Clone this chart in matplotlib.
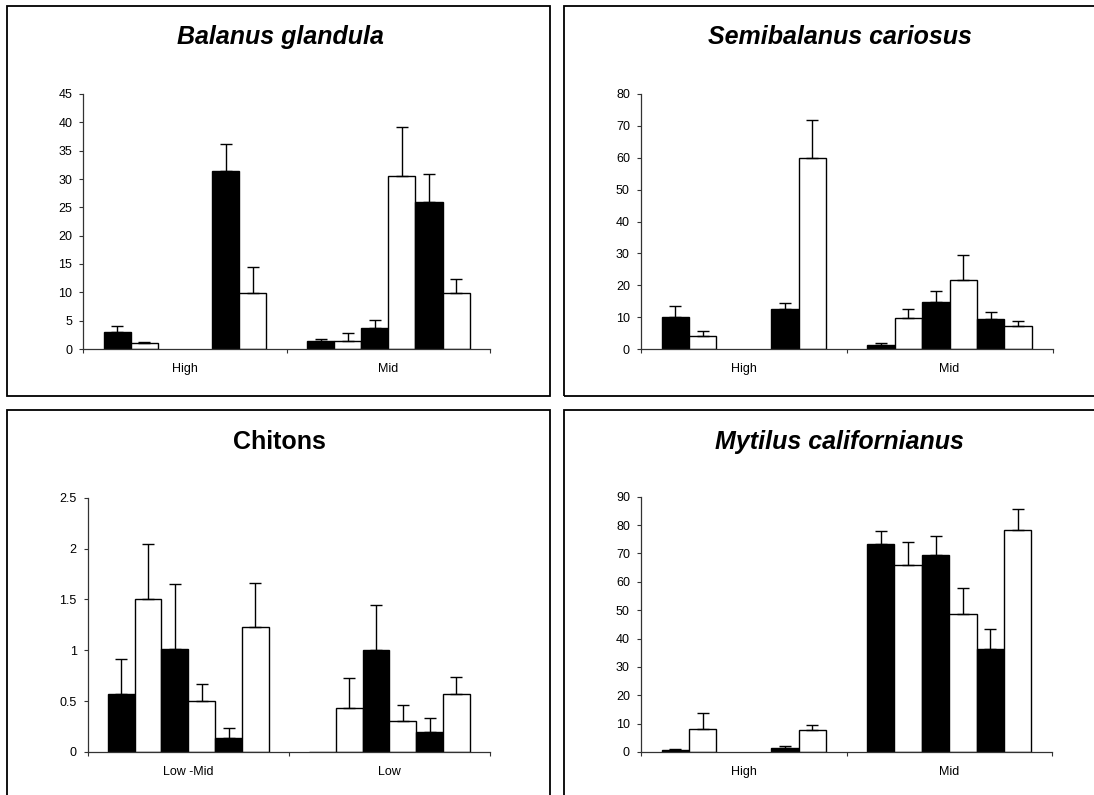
import numpy as np
import matplotlib
matplotlib.use("Agg")
import matplotlib.pyplot as plt
from matplotlib.patches import Rectangle

plt.rcParams['font.family'] = ['Liberation Sans', 'DejaVu Sans']

nan = np.nan

# ---------------- data ----------------
balanus_cats = ["High", "Mid"]
balanus_high = [3.0, 1.0, nan, nan, 31.5, 9.8]
balanus_high_se = [1.1, 0.2, nan, nan, 4.7, 4.6]
balanus_mid = [1.5, 1.5, 3.7, 30.6, 25.9, 9.8]
balanus_mid_se = [0.35, 1.3, 1.5, 8.6, 4.9, 2.5]

semib_cats = ["High", "Mid"]
semib_high = [10.1, 4.1, nan, nan, 12.5, 60.0]
semib_high_se = [3.3, 1.5, nan, nan, 2.0, 11.7]
semib_mid = [1.4, 9.7, 14.6, 21.7, 9.3, 7.3]
semib_mid_se = [0.4, 2.8, 3.5, 7.7, 2.4, 1.6]

chiton_cats = ["Low -Mid", "Low"]
chiton_lowmid = [0.57, 1.50, 1.01, 0.505, 0.14, 1.23]
chiton_lowmid_se = [0.34, 0.54, 0.64, 0.165, 0.10, 0.43]
chiton_low = [0.0, 0.43, 1.0, 0.30, 0.20, 0.567]
chiton_low_se = [nan, 0.30, 0.445, 0.16, 0.13, 0.173]

mytilus_cats = ["High", "Mid"]
mytilus_high = [0.6, 8.1, nan, nan, 1.5, 7.6]
mytilus_high_se = [0.35, 5.5, nan, nan, 0.5, 2.0]
mytilus_mid = [73.3, 66.0, 69.3, 48.8, 36.3, 78.3]
mytilus_mid_se = [4.5, 8.1, 6.8, 9.1, 7.2, 7.2]

series_colors = ["black", "white", "black", "white", "black", "white"]

W, H = 1094, 795
fig = plt.figure(figsize=(W / 100, H / 100), dpi=100)
fig.patch.set_facecolor("white")


def px_axes(left, right, top, bottom):
    return fig.add_axes([left / W, (H - bottom) / H, (right - left) / W, (bottom - top) / H])


def frame(x0, x1, y0, y1):
    fig.patches.append(Rectangle((x0 / W, (H - y1) / H), (x1 - x0) / W, (y1 - y0) / H,
                                 transform=fig.transFigure, fill=False,
                                 edgecolor="black", linewidth=1.3, zorder=0))


def panel(ax, cats, vals, ses, ymax, ystep, yfmt):
    n = 6
    w = 1.0 / 7.5
    for i in range(n):
        xs = np.arange(len(cats)) + (i - 2.5) * w
        v = np.array([vals[c][i] for c in range(len(cats))], dtype=float)
        s = np.array([ses[c][i] for c in range(len(cats))], dtype=float)
        ax.bar(xs, v, width=w, color=series_colors[i], edgecolor="black",
               linewidth=1.0, zorder=2)
        ok = ~np.isnan(s) & ~np.isnan(v)
        if ok.any():
            ax.errorbar(xs[ok], v[ok], yerr=[np.zeros(ok.sum()), s[ok]], fmt="none",
                        ecolor="black", elinewidth=1.0, capsize=4, capthick=1.0, zorder=3)
    ax.set_xlim(-0.5, len(cats) - 0.5)
    ax.set_ylim(0, ymax)
    ticks = np.arange(0, ymax + ystep / 2, ystep)
    ax.set_yticks(ticks)
    ax.set_yticklabels([yfmt(t) for t in ticks])
    ax.set_xticks(np.arange(len(cats) + 1) - 0.5)
    ax.set_xticklabels([])
    ax.set_xticks(np.arange(len(cats)), minor=True)
    ax.set_xticklabels(cats, minor=True)
    ax.tick_params(axis="x", which="major", length=3, width=0.8, direction="out", color="#333333")
    ax.tick_params(axis="x", which="minor", length=0, pad=10, labelsize=9)
    ax.tick_params(axis="y", length=3, width=0.8, direction="out", pad=5, labelsize=9, color="#333333")
    for sp in ("top", "right"):
        ax.spines[sp].set_visible(False)
    for sp in ("left", "bottom"):
        ax.spines[sp].set_color("#333333")
        ax.spines[sp].set_linewidth(0.9)
    ax.set_facecolor("none")


intfmt = lambda t: f"{int(round(t))}"
chfmt = lambda t: f"{t:g}"

# frames
frame(7, 550, 6, 396)
frame(564, 1100, 6, 396)
frame(7, 550, 410, 800)
frame(564, 1100, 410, 800)

ax1 = px_axes(83.3, 490, 94, 349)
panel(ax1, balanus_cats, [balanus_high, balanus_mid], [balanus_high_se, balanus_mid_se], 45, 5, intfmt)

ax2 = px_axes(641, 1052.5, 94, 349)
panel(ax2, semib_cats, [semib_high, semib_mid], [semib_high_se, semib_mid_se], 80, 10, intfmt)

ax3 = px_axes(87.7, 490, 497.7, 752)
panel(ax3, chiton_cats, [chiton_lowmid, chiton_low], [chiton_lowmid_se, chiton_low_se], 2.5, 0.5, chfmt)

ax4 = px_axes(641, 1052, 496.7, 752)
panel(ax4, mytilus_cats, [mytilus_high, mytilus_mid], [mytilus_high_se, mytilus_mid_se], 90, 10, intfmt)

# titles
def title(x, y, s, italic=True):
    fig.text(x / W, (H - y) / H, s, ha="center", va="center", fontsize=18,
             fontweight="bold", fontstyle="italic" if italic else "normal")

title(280.4, 36.7, "Balanus glandula")
title(839.8, 36.7, "Semibalanus cariosus")
title(279.8, 441.7, "Chitons", italic=False)
title(839.5, 441.7, "Mytilus californianus")

fig.savefig("out.png", dpi=100)
